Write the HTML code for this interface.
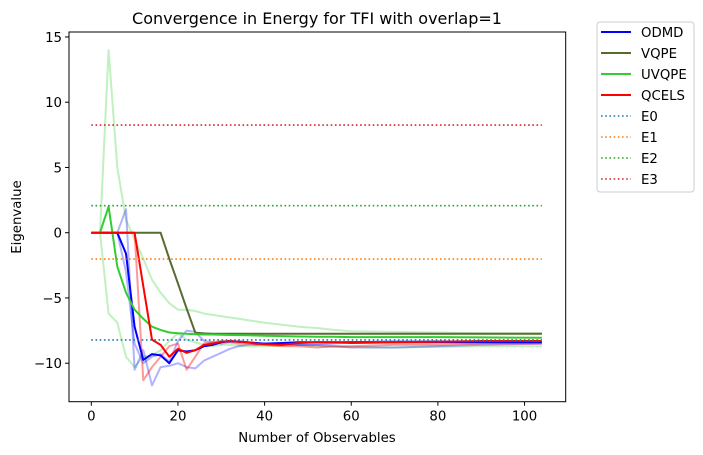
<!DOCTYPE html>
<html><head><meta charset="utf-8"><style>
body{margin:0;background:#fff;}
svg{display:block;font-family:"DejaVu Sans","Liberation Sans",sans-serif;}
</style></head><body>
<svg id="chart" width="703" height="455">
<rect width="703" height="455" fill="#fff"/>
<text x="317" y="24" text-anchor="middle" font-size="16">Convergence in Energy for TFI with overlap=1</text>
<g id="plot"></g>
<rect x="69" y="32" width="496.7" height="369.7" fill="none" stroke="#000" stroke-width="1"/>
<g id="xticks"></g><g id="yticks"></g>
<text x="317" y="442" text-anchor="middle" font-size="13.3">Number of Observables</text>
<text transform="translate(21,217) rotate(-90)" text-anchor="middle" font-size="13.3">Eigenvalue</text>
<g id="legend"></g>
</svg>
<script>
const xs = [0,2,4,6,8,10,12,14,16,18,20,22,24,26,28,30,32,34,36,38,40,44,48,52,56,60,70,80,90,104];
const odmd  = [0,0,0,0,-1.6,-7.2,-9.75,-9.3,-9.4,-10,-9,-9.1,-9,-8.7,-8.6,-8.4,-8.3,-8.35,-8.4,-8.45,-8.5,-8.45,-8.4,-8.4,-8.4,-8.4,-8.4,-8.4,-8.4,-8.4];
const vqpe  = [0,0,0,0,0,0,0,0,0,-2.0,-3.9,-5.8,-7.66,-7.72,-7.74,-7.74,-7.74,-7.74,-7.74,-7.74,-7.74,-7.74,-7.74,-7.74,-7.74,-7.74,-7.74,-7.74,-7.74,-7.74];
const uvqpe = [0,0,2,-2.6,-4.6,-5.9,-6.6,-7.2,-7.45,-7.65,-7.7,-7.75,-7.78,-7.8,-7.8,-7.82,-7.84,-7.85,-7.86,-7.88,-7.9,-7.92,-7.95,-7.97,-7.98,-8.0,-8.0,-8.0,-8.02,-8.05];
const qcels = [0,0,0,0,0,0,-4.1,-8.2,-8.6,-9.5,-8.9,-9.2,-9.0,-8.6,-8.5,-8.35,-8.3,-8.35,-8.4,-8.5,-8.55,-8.6,-8.45,-8.4,-8.4,-8.45,-8.4,-8.35,-8.3,-8.3];
const lg1 = [0,0,14,5,1,-0.5,-2,-3.6,-4.6,-5.4,-5.9,-5.9,-6.0,-6.2,-6.3,-6.4,-6.5,-6.6,-6.7,-6.8,-6.9,-7.05,-7.2,-7.3,-7.45,-7.55,-7.6,-7.65,-7.7,-7.7];
const lg2 = [0,0,-6.2,-6.9,-9.5,-10.3,-9.5,-9.4,-9.0,-8.3,-7.7,-8.2,-8.4,-8.6,-8.7,-8.6,-8.6,-8.65,-8.7,-8.7,-8.7,-8.65,-8.6,-8.7,-8.75,-8.75,-8.8,-8.75,-8.7,-8.7];
const lb1 = [0,0,0,0,1.8,-10.5,-9.0,-11.7,-10.3,-10.2,-10,-10.3,-10.4,-9.8,-9.5,-9.2,-8.9,-8.7,-8.6,-8.55,-8.5,-8.5,-8.6,-8.6,-8.7,-8.8,-8.8,-8.7,-8.6,-8.5];
const lb2 = [0,0,0,0,-3,-8.5,-10,-9.5,-9.3,-9.9,-8.3,-7.5,-7.6,-8.3,-8.4,-8.5,-8.4,-8.3,-8.4,-8.5,-8.5,-8.5,-8.6,-8.6,-8.5,-8.4,-8.3,-8.3,-8.4,-8.4];
const lr1 = [0,0,0,0,0,0,-11.3,-10.3,-9.5,-8.7,-8.5,-10.5,-9.5,-8.5,-8.4,-8.3,-8.4,-8.5,-8.5,-8.6,-8.6,-8.7,-8.7,-8.8,-8.7,-8.7,-8.6,-8.6,-8.5,-8.5];
const energies = [-8.22,-2.02,2.07,8.25];
const energyNames = ["E0","E1","E2","E3"];
const xTicks = [0,20,40,60,80,100];
const yTicks = [15,10,5,0,-5,-10];
const xMin=-5.15, xMax=109.5, yMin=-12.95, yMax=15.38;
const L=69,T=32,W=496.7,H=369.7;
const sx=v=>L+(v-xMin)/(xMax-xMin)*W;
const sy=v=>T+(yMax-v)/(yMax-yMin)*H;
const NS="http://www.w3.org/2000/svg";
const plot=document.getElementById('plot');
function mk(tag,attrs,parent){const e=document.createElementNS(NS,tag);for(const k in attrs)e.setAttribute(k,attrs[k]);parent.appendChild(e);return e;}
function line(ys,color,w,op,name){
  const d=xs.map((x,i)=>(i?'L':'M')+sx(x).toFixed(1)+','+sy(ys[i]).toFixed(1)).join('');
  const p=mk('path',{d:d,fill:'none',stroke:color,'stroke-width':w,'stroke-opacity':op,'stroke-linejoin':'round'},plot);
  
  
}
line(lg1,'#32cd32',2,0.3,'uvqpe-trace-1');
line(lg2,'#32cd32',2,0.3,'uvqpe-trace-2');
line(lb1,'#0000ff',2,0.3,'odmd-trace-1');
line(lb2,'#0000ff',2,0.3,'odmd-trace-2');
line(lr1,'#ff0000',2,0.4,'qcels-trace-1');
line(odmd,'#0000ff',2,1,'odmd-line');
line(vqpe,'#556b2f',2,1,'vqpe-line');
line(uvqpe,'#32cd32',2,1,'uvqpe-line');
line(qcels,'#ff0000',2,1,'qcels-line');
const eColors=['#1f77b4','#ff7f0e','#2ca02c','#d62728'];
energies.forEach((e,i)=>{
  const l=mk('line',{x1:sx(0),x2:sx(104),y1:sy(e),y2:sy(e),stroke:eColors[i],'stroke-width':1.6,'stroke-dasharray':'1.6,2.6'},plot);
  
  
});
const xt=document.getElementById('xticks');
xTicks.forEach(v=>{
  const x=sx(v);
  mk('line',{x1:x,x2:x,y1:T+H,y2:T+H+4,stroke:'#000'},xt);
  const t=mk('text',{x:x,y:T+H+19,'text-anchor':'middle','font-size':13.3},xt);
  t.textContent=v;
  
  
});
const yt=document.getElementById('yticks');
yTicks.forEach(v=>{
  const y=sy(v);
  mk('line',{x1:L-4,x2:L,y1:y,y2:y,stroke:'#000'},yt);
  const t=mk('text',{x:L-7,y:y+5,'text-anchor':'end','font-size':13.3},yt);
  t.textContent=v<0?'\u2212'+(-v):v;
  
  
});
const lg=document.getElementById('legend');
mk('rect',{x:597,y:22,width:97,height:170,rx:3,fill:'#fff',stroke:'#ccc'},lg);
const names=['ODMD','VQPE','UVQPE','QCELS'].concat(energyNames);
const cols=['#0000ff','#556b2f','#32cd32','#ff0000'].concat(eColors);
names.forEach((n,i)=>{
  const y=32+i*21;
  const ln=mk('line',{x1:601,x2:631,y1:y,y2:y,stroke:cols[i],'stroke-width':i<4?2:1.6},lg);
  if(i>=4) ln.setAttribute('stroke-dasharray','1.6,2.6');
  const t=mk('text',{x:641,y:y+5,'font-size':13.3},lg);
  t.textContent=n;
  
  
});
</script>
</body></html>
